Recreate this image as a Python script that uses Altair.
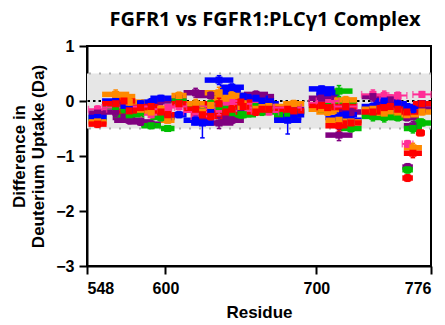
import altair as alt
import pandas as pd

# Peptide spans (residue numbers)
starts = [549, 558, 565, 575, 584, 597, 604, 612, 617, 626, 636, 646, 652, 662, 672, 695, 706, 712, 730, 738, 748, 757, 758, 764, 766,
          566, 590, 620, 630, 640, 656, 678, 700, 716, 742, 752]
ends   = [561, 576, 580, 592, 597, 606, 614, 628, 632, 645, 652, 657, 668, 675, 690, 712, 724, 727, 745, 752, 760, 764, 770, 776, 772,
          586, 604, 640, 650, 660, 672, 692, 715, 730, 756, 768]

# Difference in deuterium uptake (Da) per time point
blue   = [-0.30, 0.00, -0.08, -0.05, -0.02, -0.28, -0.25, -0.35, -0.40, 0.38, 0.25, 0.08, 0.05, -0.05, -0.35, 0.22, -0.30, -0.25, -0.10, 0.00, -0.05, None, -0.15, -0.05, None,
          -0.15, 0.05, -0.20, 0.15, -0.10, 0.00, -0.25, 0.15, -0.35, -0.15, -0.10]
red    = [-0.42, -0.05, 0.00, -0.12, -0.10, -0.25, -0.05, -0.15, -0.25, -0.05, -0.15, -0.10, -0.20, -0.15, -0.15, -0.08, -0.45, -0.10, -0.20, -0.12, -0.15, -1.40, -0.95, -0.05, -0.58,
          -0.18, -0.20, -0.28, -0.20, -0.02, -0.15, -0.18, -0.12, -0.40, -0.10, -0.20]
green  = [-0.32, -0.10, -0.15, -0.20, -0.45, -0.50, 0.00, -0.10, -0.20, -0.10, -0.20, -0.25, -0.10, -0.15, -0.25, -0.15, 0.18, -0.05, -0.28, -0.30, -0.30, -1.25, -0.50, -0.40, -0.38,
          -0.25, -0.30, -0.05, -0.15, -0.25, -0.20, -0.20, -0.10, -0.50, -0.25, -0.15]
orange = [-0.38, 0.12, 0.08, -0.15, -0.20, -0.35, 0.10, -0.05, -0.20, 0.15, 0.10, -0.05, -0.15, -0.10, -0.10, -0.15, -0.35, 0.02, -0.15, -0.22, -0.20, None, -0.85, -0.20, None,
          -0.02, -0.15, -0.08, 0.05, -0.10, -0.12, -0.05, -0.20, -0.38, -0.18, -0.25]
purple = [-0.22, -0.20, -0.30, -0.38, -0.42, -0.30, 0.05, 0.15, -0.30, -0.40, -0.35, 0.05, 0.12, -0.05, -0.30, 0.05, -0.62, -0.18, 0.08, -0.05, -0.08, -1.20, -0.45, -0.15, None,
          -0.35, 0.00, 0.10, -0.28, -0.15, 0.08, -0.15, 0.10, -0.20, 0.02, -0.30]
pink   = [-0.15, -0.12, None, -0.10, -0.25, -0.12, -0.10, -0.20, -0.28, -0.15, 0.00, -0.18, -0.05, -0.20, -0.12, -0.03, None, -0.10, 0.12, 0.10, 0.10, -0.78, None, 0.12, None,
          None, -0.15, -0.10, -0.05, None, -0.12, None, 0.00, None, 0.05, None]

# Error (SD) values
err_blue  = [0.05, 0.06, 0.05, 0.05, 0.06, 0.05, 0.05, 0.08, 0.27, 0.08, 0.06, 0.06, 0.05, 0.05, 0.25, 0.05, 0.08, 0.05, 0.06, 0.05, 0.10, 0.05, 0.06, 0.05, 0.05,
             0.05, 0.05, 0.06, 0.05, 0.05, 0.05, 0.06, 0.05, 0.06, 0.05, 0.05]
err_other = [0.06, 0.08, 0.06, 0.06, 0.05, 0.05, 0.06, 0.08, 0.08, 0.10, 0.06, 0.05, 0.06, 0.05, 0.06, 0.05, 0.10, 0.06, 0.08, 0.08, 0.06, 0.06, 0.08, 0.05, 0.05,
             0.06, 0.06, 0.06, 0.06, 0.06, 0.06, 0.06, 0.06, 0.06, 0.06, 0.06]

series_names = ["pink", "purple", "green", "blue", "orange", "red"]
series_colors = ["#FF2D96", "#800080", "#00BE00", "#0000FF", "#FF8A00", "#FF0000"]
series_vals = [pink, purple, green, blue, orange, red]

rows = []
for name, vals in zip(series_names, series_vals):
    errs = err_blue if name == "blue" else err_other
    for s, e, v, er in zip(starts, ends, vals, errs):
        if v is None:
            continue
        rows.append(dict(series=name, start=s, end=e, val=v, err=er))
df = pd.DataFrame(rows)

xscale = alt.Scale(domain=[548, 776], nice=False, zero=False)
yscale = alt.Scale(domain=[-3, 1], nice=False, zero=False)
cscale = alt.Scale(domain=series_names, range=series_colors)

xaxis = alt.Axis(values=[548, 600, 700, 776], title="Residue", labelPadding=6,
                 titlePadding=8, format="d")
yaxis = alt.Axis(values=[1, 0, -1, -2, -3], title=["Difference in", "Deuterium Uptake (Da)"],
                 labelPadding=5, titlePadding=8, format="d")

base = alt.Chart(df).transform_calculate(
    mid="(datum.start + datum.end) / 2",
    lo="datum.val - datum.err",
    hi="datum.val + datum.err",
    capl="(datum.start + datum.end) / 2 - 1.5",
    capr="(datum.start + datum.end) / 2 + 1.5",
)

band = alt.Chart(pd.DataFrame({"a": [0]})).mark_rect(color="#e6e6e6").encode(
    x=alt.datum(548, scale=xscale, axis=xaxis), x2=alt.datum(776),
    y=alt.datum(-0.5, scale=yscale, axis=yaxis), y2=alt.datum(0.5),
)
edges = alt.Chart(pd.DataFrame({"v": [-0.5, 0.5]})).mark_rule(
    color="#b0b0b0", strokeWidth=2, strokeDash=[2, 8]
).encode(y=alt.Y("v:Q", scale=yscale))
zero = alt.Chart(pd.DataFrame({"v": [0]})).mark_rule(
    color="black", strokeWidth=2, strokeDash=[2.5, 3]
).encode(y=alt.Y("v:Q", scale=yscale))

hbars = base.transform_filter("datum.series != 'pink'").mark_rule(strokeWidth=5.5).encode(
    x=alt.X("start:Q", scale=xscale), x2="end:Q",
    y=alt.Y("val:Q", scale=yscale),
    color=alt.Color("series:N", scale=cscale, legend=None),
)
pbars = base.transform_filter("datum.series == 'pink'").mark_rule(strokeWidth=2).encode(
    x=alt.X("start:Q", scale=xscale), x2="end:Q",
    y=alt.Y("val:Q", scale=yscale),
    color=alt.Color("series:N", scale=cscale, legend=None),
)
pcaps = base.transform_filter("datum.series == 'pink'").transform_fold(
    ["start", "end"], as_=["k", "xe"]
).mark_tick(orient="vertical", thickness=1.5, size=7).encode(
    x=alt.X("xe:Q", scale=xscale),
    y=alt.Y("val:Q", scale=yscale),
    color=alt.Color("series:N", scale=cscale, legend=None),
)
vbars = base.mark_rule(strokeWidth=1.5).encode(
    x=alt.X("mid:Q", scale=xscale),
    y=alt.Y("lo:Q", scale=yscale), y2="hi:Q",
    color=alt.Color("series:N", scale=cscale, legend=None),
)
caps = base.transform_fold(["lo", "hi"], as_=["k", "ye"]).mark_rule(strokeWidth=1.5).encode(
    x=alt.X("capl:Q", scale=xscale), x2="capr:Q",
    y=alt.Y("ye:Q", scale=yscale),
    color=alt.Color("series:N", scale=cscale, legend=None),
)
pts = base.mark_point(shape="square", filled=True, size=50, opacity=1).encode(
    x=alt.X("mid:Q", scale=xscale),
    y=alt.Y("val:Q", scale=yscale),
    color=alt.Color("series:N", scale=cscale, legend=None),
)

chart = alt.layer(band, edges, zero, hbars, pbars, pcaps, vbars, caps, pts).properties(
    width=344, height=220,
    autosize="none",
    padding={"left": 87, "top": 46, "right": 14, "bottom": 59},
    title=alt.TitleParams("FGFR1 vs FGFR1:PLCγ1 Complex", font="Open Sans", fontSize=20,
                          fontWeight="bold", color="black", anchor="middle", dx=6, offset=8),
).configure_view(stroke="black", strokeWidth=2).configure_axis(
    domainColor="black", domainWidth=2, tickColor="black", tickWidth=2, tickSize=8,
    labelFont="Liberation Sans", labelFontSize=16, labelFontWeight="bold", labelColor="black",
    titleFont="Liberation Sans", titleFontSize=17, titleFontWeight="bold", titleColor="black",
    grid=False,
).configure_axisX(titleFontSize=17)

chart.save("out.html", embed_options={"renderer": "svg", "actions": False})
